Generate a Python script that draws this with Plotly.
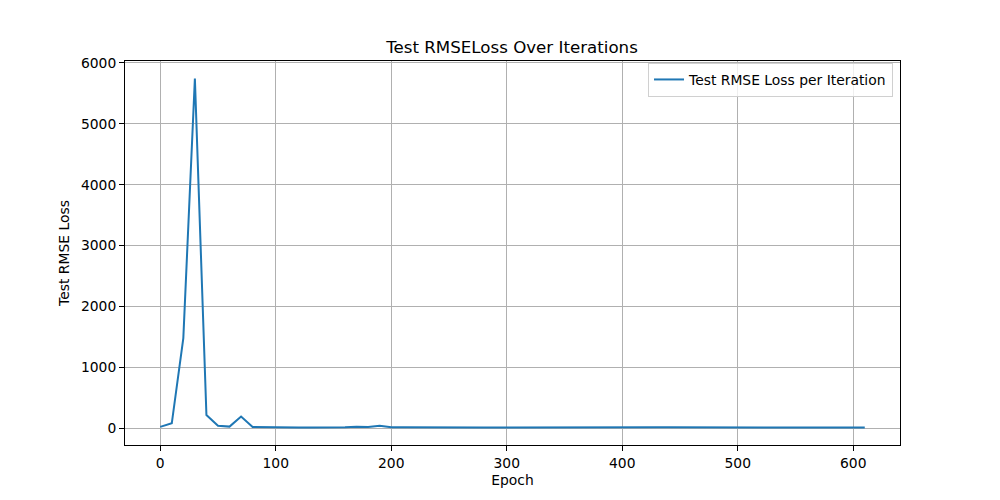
import plotly.graph_objects as go

epochs = list(range(0, 620, 10))
loss = [20, 80, 1480, 5745, 215, 40, 25, 190, 20, 15,
        14, 13, 12, 12, 11, 12, 13, 22, 18, 40,
        16, 14, 12, 13, 12, 12, 13, 12, 12, 11,
        12, 13, 12, 12, 14, 13, 12, 16, 15, 17,
        20, 14, 18, 16, 13, 12, 12, 13, 12, 12,
        11, 12, 12, 13, 14, 13, 12, 11, 12, 12, 11, 11]

x_ticks = [0, 100, 200, 300, 400, 500, 600]
y_ticks = [0, 1000, 2000, 3000, 4000, 5000, 6000]

FS = 13.89

fig = go.Figure()
fig.add_trace(go.Scatter(x=epochs, y=loss, mode="lines",
                         name="Test RMSE Loss per Iteration",
                         line=dict(color="#1f77b4", width=2)))

axis_common = dict(showline=True, linecolor="black", linewidth=1, mirror=True,
                   ticks="outside", ticklen=5, tickcolor="black",
                   showgrid=True, gridcolor="#b0b0b0", gridwidth=0.8,
                   zeroline=False, tickfont=dict(size=FS, color="black"))

fig.update_layout(
    width=1000, height=500,
    paper_bgcolor="white", plot_bgcolor="white",
    font=dict(family="DejaVu Sans", size=FS, color="black"),
    margin=dict(l=117, r=108, t=53, b=63),
    title=dict(text="Test RMSELoss Over Iterations", x=(512 - 8) / 1000, xanchor="center",
               y=1 - 39/500, yanchor="middle", font=dict(size=16.67)),
    xaxis=dict(range=[-30.5, 640.5], tickvals=x_ticks,
               title=dict(text="Epoch", standoff=5, font=dict(size=FS)), **axis_common),
    yaxis=dict(range=[-277, 6032], tickvals=y_ticks,
               title=dict(text="Test RMSE Loss", standoff=8, font=dict(size=FS)), **axis_common),
    legend=dict(x=0.991, y=0.995, xanchor="right", yanchor="top",
                bgcolor="rgba(255,255,255,0.8)", bordercolor="#d0d0d0", borderwidth=1,
                font=dict(size=FS)),
    showlegend=True,
)

fig.write_html("out.html")
